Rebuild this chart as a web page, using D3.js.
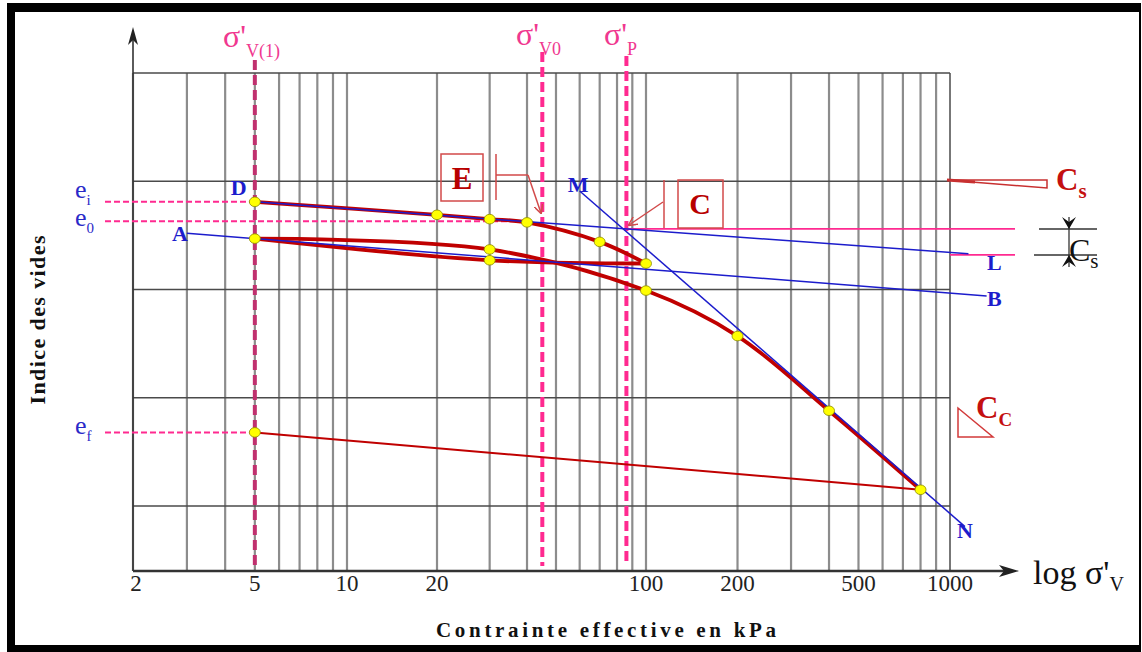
<!DOCTYPE html>
<html>
<head>
<meta charset="utf-8">
<script src="https://cdn.jsdelivr.net/npm/d3@7"></script>
<style>
  html, body { margin: 0; padding: 0; background: #fff; }
  svg { display: block; font-family: "Liberation Serif", "Times New Roman", serif; }
</style>
</head>
<body>
<svg id="chart" width="1142" height="652"></svg>
<script>
// Oedometer test, void ratio vs log effective stress

// stress axis (kPa)
const tickLabels = [2, 5, 10, 20, 100, 200, 500, 1000];
const gridStress = [2, 3, 4, 5, 6, 7, 8, 9, 10, 20, 30, 40, 50, 60, 70, 80, 90, 100,
                    200, 300, 400, 500, 600, 700, 800, 900, 1000];
const gridVoid = [1.0, 0.9, 0.8, 0.7, 0.6];

// curve D (reloading branch)
const curveDSig = [5, 20, 30, 40, 70, 100];
const curveDE   = [0.881, 0.869, 0.865, 0.862, 0.844, 0.824];
// curve from A (virgin loading)
const curveASig = [5, 30, 100, 200, 400, 800];
const curveAE   = [0.847, 0.837, 0.799, 0.757, 0.688, 0.615];
// lower branch of the A loop
const loopSig = [5, 30, 100];
const loopE   = [0.847, 0.827, 0.824];
// final unloading
const unloadSig = [800, 5];
const unloadE   = [0.615, 0.668];

// construction lines (start, end)
const lineAB = { sig: [3, 1320], e: [0.852, 0.794] };
const lineDL = { sig: [5, 1150], e: [0.881, 0.833] };
const lineMN = { sig: [60, 1120], e: [0.891, 0.581] };

// characteristic stresses and void ratios
const sigV1 = 5, sigV0 = 45, sigP = 86;
const eI = 0.881, e0 = 0.863, eF = 0.668, eC = 0.856, eL = 0.832;

const RED = '#c00000', BLUE = '#1c1ccc', PINK = '#ff2a90', PINK_DARK = '#c0306e',
      PINK_TXT = '#f0388f', BOXRED = '#d24a4a';

const svg = d3.select('#chart');

const x = d3.scaleLog().domain([2, 10, 100, 1000]).range([133, 347, 646, 950]);
const y = d3.scaleLinear().domain([1.0, 0.6]).range([73, 506]);
const yAxisY = 571;
const xL = x(2), xR = x(1000), yT = y(1.0);

// ---- frame
svg.append('rect').attr('x', 7).attr('y', 3).attr('width', 1134).attr('height', 9).attr('fill', '#000');
svg.append('rect').attr('x', 7).attr('y', 3).attr('width', 8).attr('height', 649).attr('fill', '#000');
svg.append('rect').attr('x', 7).attr('y', 645).attr('width', 1134).attr('height', 7).attr('fill', '#000');
svg.append('rect').attr('x', 1139).attr('y', 3).attr('width', 2).attr('height', 649).attr('fill', '#000');

// ---- grid
const gGrid = svg.append('g');
gridStress.forEach(v => {
  gGrid.append('line')
    .attr('x1', x(v)).attr('x2', x(v)).attr('y1', yT).attr('y2', yAxisY)
    .attr('stroke', v === 1000 ? '#555' : '#8c8c8c')
    .attr('stroke-width', v === 1000 ? 1.6 : 2.2);
});
gridVoid.forEach(v => {
  gGrid.append('line')
    .attr('x1', xL).attr('x2', xR).attr('y1', y(v)).attr('y2', y(v))
    .attr('stroke', '#4a4a4a').attr('stroke-width', 1.3);
});

// ---- axes
svg.append('line').attr('x1', xL).attr('x2', 1012).attr('y1', yAxisY).attr('y2', yAxisY)
  .attr('stroke', '#333').attr('stroke-width', 2.6);
svg.append('path').attr('d', 'M1019,571 L999,565 L1004,571 L999,577 Z').attr('fill', '#222');
svg.append('line').attr('x1', xL).attr('x2', xL).attr('y1', yAxisY).attr('y2', 34)
  .attr('stroke', '#333').attr('stroke-width', 1.6);
svg.append('path').attr('d', 'M133,27 L128,45 L133,40 L138,45 Z').attr('fill', '#222');

tickLabels.forEach(v => {
  svg.append('text').attr('x', x(v) + (v === 2 ? 3 : 0)).attr('y', 591)
    .attr('text-anchor', 'middle').attr('font-size', 23).attr('fill', '#222').text(v);
});

svg.append('text').attr('x', 606).attr('y', 637).attr('text-anchor', 'middle')
  .attr('font-size', 21).attr('font-weight', 'bold').attr('fill', '#111')
  .attr('textLength', 340).attr('lengthAdjust', 'spacing')
  .text('Contrainte effective en kPa');

svg.append('text').attr('transform', 'translate(45,320) rotate(-90)')
  .attr('text-anchor', 'middle').attr('font-size', 22).attr('font-weight', 'bold').attr('fill', '#111')
  .attr('textLength', 169).attr('lengthAdjust', 'spacing')
  .text('Indice des vides');

// text with a subscript
function subText(px, py, main, sub, size, subSize, color, weight, dy) {
  const t = svg.append('text').attr('x', px).attr('y', py)
    .attr('font-size', size).attr('fill', color).attr('font-weight', weight || 'normal');
  t.append('tspan').text(main);
  t.append('tspan').attr('font-size', subSize).attr('dy', dy).text(sub);
  return t;
}

subText(1033, 584, 'log σ\'', 'V', 34, 20, '#111', 'normal', 7);

// ---- stress reference lines (dashed verticals)
[[sigV1, PINK_DARK, 60], [sigV0, PINK, 52], [sigP, PINK, 56]].forEach(([s, c, top]) => {
  svg.append('line').attr('x1', x(s)).attr('x2', x(s)).attr('y1', top).attr('y2', yAxisY - 5)
    .attr('stroke', c).attr('stroke-width', 4).attr('stroke-dasharray', '10,5');
});
subText(223, 47, 'σ\'', 'V(1)', 32, 18, PINK_TXT, 'normal', 10);
subText(516, 45, 'σ\'', 'V0', 32, 18, PINK_TXT, 'normal', 10);
subText(604, 45, 'σ\'', 'P', 32, 18, PINK_TXT, 'normal', 10);

// ---- void ratio reference lines
[[eI, x(sigV1)], [e0, x(sigV0) - 11], [eF, x(sigV1)]].forEach(([e, xe]) => {
  svg.append('line').attr('x1', 105).attr('x2', xe).attr('y1', y(e)).attr('y2', y(e))
    .attr('stroke', PINK).attr('stroke-width', 2).attr('stroke-dasharray', '6,3');
});
subText(75, 198, 'e', 'i', 26, 15, '#2a2ac8', 'normal', 7);
subText(75, 226, 'e', '0', 26, 15, '#2a2ac8', 'normal', 7);
subText(75, 434, 'e', 'f', 26, 15, '#2a2ac8', 'normal', 7);

svg.append('line').attr('x1', x(sigP)).attr('x2', 1015).attr('y1', y(eC)).attr('y2', y(eC))
  .attr('stroke', PINK).attr('stroke-width', 1.6);
svg.append('line').attr('x1', x(1000)).attr('x2', 1015).attr('y1', y(eL)).attr('y2', y(eL))
  .attr('stroke', PINK).attr('stroke-width', 1.6);

// ---- red test curves
const line = d3.line().x(d => x(d[0])).y(d => y(d[1])).curve(d3.curveCatmullRom.alpha(0.5));
const zip = (a, b) => a.map((v, i) => [v, b[i]]);
[[curveDSig, curveDE], [curveASig, curveAE], [loopSig, loopE]].forEach(([s, e]) => {
  svg.append('path').datum(zip(s, e)).attr('d', line)
    .attr('fill', 'none').attr('stroke', RED).attr('stroke-width', 3.8)
    .attr('stroke-linecap', 'round').attr('stroke-linejoin', 'round');
});
svg.append('path').datum(zip(unloadSig, unloadE)).attr('d', d3.line().x(d => x(d[0])).y(d => y(d[1])))
  .attr('fill', 'none').attr('stroke', RED).attr('stroke-width', 2);

// ---- blue construction lines
[lineAB, lineDL, lineMN].forEach(l => {
  svg.append('line')
    .attr('x1', x(l.sig[0])).attr('y1', y(l.e[0]))
    .attr('x2', x(l.sig[1])).attr('y2', y(l.e[1]))
    .attr('stroke', BLUE).attr('stroke-width', 1.5);
});

// ---- measured points
const pts = zip(curveDSig, curveDE).concat(zip(curveASig, curveAE), [[loopSig[1], loopE[1]]], [[unloadSig[1], unloadE[1]]]);
svg.append('g').selectAll('ellipse').data(pts).join('ellipse')
  .attr('cx', d => x(d[0])).attr('cy', d => y(d[1]))
  .attr('rx', 5.5).attr('ry', 4.8)
  .attr('fill', '#ffff00').attr('stroke', '#8a8a00').attr('stroke-width', 0.8);

// ---- point letters
const letters = [
  ['D', x(lineDL.sig[0]) - 24, y(lineDL.e[0]) - 7],
  ['A', x(lineAB.sig[0]) - 15, y(lineAB.e[0]) + 8],
  ['M', x(lineMN.sig[0]) - 12, y(lineMN.e[0]) + 1],
  ['L', 987, 270],
  ['B', 987, 306],
  ['N', 957, 538]
];
letters.forEach(([t, lx, ly]) => {
  svg.append('text').attr('x', lx).attr('y', ly).attr('font-size', 22)
    .attr('font-weight', 'bold').attr('fill', BLUE).text(t);
});

// ---- annotations E and C
const defs = svg.append('defs');
defs.append('marker').attr('id', 'arr').attr('viewBox', '0 0 10 10').attr('refX', 9).attr('refY', 5)
  .attr('markerWidth', 9).attr('markerHeight', 9).attr('orient', 'auto-start-reverse')
  .attr('markerUnits', 'userSpaceOnUse')
  .append('path').attr('d', 'M0,0 L10,5 L0,10').attr('fill', 'none').attr('stroke', BOXRED).attr('stroke-width', 1.6);

const gAnn = svg.append('g').attr('fill', 'none').attr('stroke', BOXRED).attr('stroke-width', 1.5);
gAnn.append('rect').attr('x', 441).attr('y', 154).attr('width', 42).attr('height', 47);
gAnn.append('path').attr('d', 'M496,154 L496,200 M496,175 L528,175');
gAnn.append('path').attr('d', 'M528,175 L541,213').attr('marker-end', 'url(#arr)');
gAnn.append('rect').attr('x', 678).attr('y', 180).attr('width', 45).attr('height', 48);
gAnn.append('path').attr('d', 'M664,180 L664,228');
gAnn.append('path').attr('d', 'M663,202 L629,225').attr('marker-end', 'url(#arr)');
svg.append('text').attr('x', 462).attr('y', 189).attr('text-anchor', 'middle').attr('font-size', 31)
  .attr('font-weight', 'bold').attr('fill', '#b80000').text('E');
svg.append('text').attr('x', 700).attr('y', 214).attr('text-anchor', 'middle').attr('font-size', 30)
  .attr('font-weight', 'bold').attr('fill', '#b80000').text('C');

// ---- Cs / Cc slope symbols
gAnn.append('path').attr('d', 'M947,180 L1047,180 L1047,188 Z').attr('stroke', '#c83030');
gAnn.append('path').attr('d', 'M947,180 L975,182').attr('stroke', '#c83030').attr('stroke-width', 3);
subText(1056, 190, 'C', 's', 31, 21, '#c41010', 'bold', 8);

gAnn.append('path').attr('d', 'M958,408 L958,437 L993,437 Z').attr('stroke', '#d23a3a');
subText(976, 418, 'C', 'C', 31, 19, '#c41010', 'bold', 8);

const gCs = svg.append('g').attr('stroke', '#333').attr('stroke-width', 1.3);
gCs.append('line').attr('x1', 1039).attr('x2', 1097).attr('y1', 229).attr('y2', 229);
gCs.append('line').attr('x1', 1034).attr('x2', 1097).attr('y1', 255).attr('y2', 255);
gCs.append('line').attr('x1', 1069).attr('x2', 1069).attr('y1', 217).attr('y2', 267);
svg.append('path').attr('d', 'M1062,217 L1069,229 L1076,217 L1069,222 Z M1062,267 L1069,255 L1076,267 L1069,262 Z')
  .attr('fill', '#111');
subText(1069, 261, 'C', 's', 32, 21, '#111', 'normal', 7);
</script>
</body>
</html>
